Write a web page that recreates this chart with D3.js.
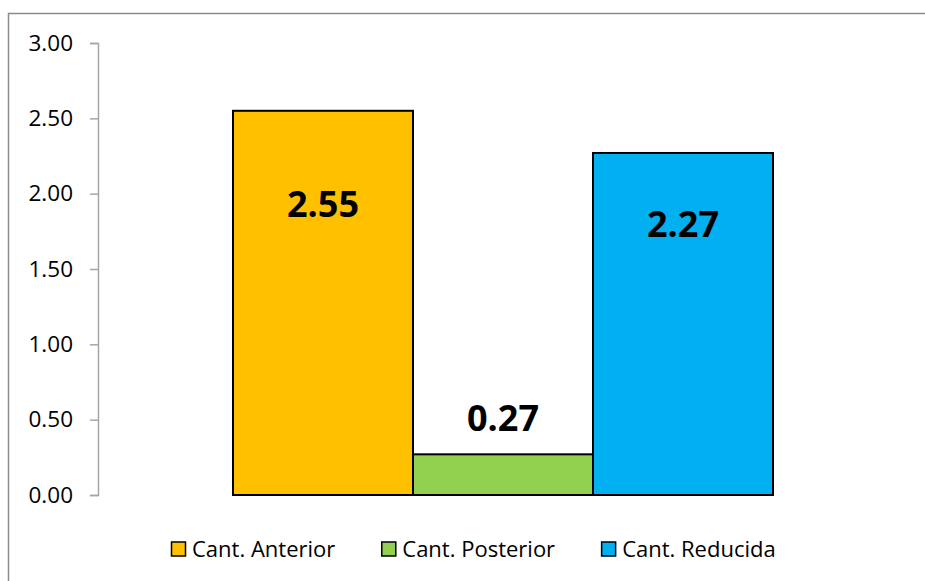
<!DOCTYPE html>
<html>
<head>
<meta charset="utf-8">
<script src="https://cdn.jsdelivr.net/npm/d3@7"></script>
<style>
  body { margin: 0; background: #fff; }
  text { font-family: "Open Sans", "Noto Sans", sans-serif; }
</style>
</head>
<body>
<div id="chart"></div>
<script>
// datos
const categorias = ["Cant. Anterior", "Cant. Posterior", "Cant. Reducida"];
const valores = [2.55, 0.27, 2.27];
const colores = ["#ffc000", "#92d050", "#00b0f0"];
const ticksY = [0, 0.5, 1, 1.5, 2, 2.5, 3];

// desplazamiento de etiquetas (px desde el tope de la barra)
const labelOffset = [106, -23, 84];

const W = 925, H = 581;

let svg = d3.select("#chart")
    .append("svg")
    .attr("width", W)
    .attr("height", H);

// marco del grafico
svg.append("rect")
    .attr("x", 8.5).attr("y", 13.5)
    .attr("width", W).attr("height", H)
    .attr("fill", "none")
    .attr("stroke", "#8c8c8c")
    .attr("stroke-width", 1.5);

let x = d3.scaleBand()
    .domain(categorias)
    .range([233, 773])
    .padding(0);

let y = d3.scaleLinear()
    .domain([0, 3])
    .range([495, 43]);

// eje Y
let ejeY = svg.append("g")
    .attr("transform", "translate(98,0)")
    .call(d3.axisLeft(y).tickValues(ticksY).tickFormat(d3.format(".2f")).tickSize(8).tickPadding(17));
ejeY.select(".domain").attr("stroke", "#a6a6a6").attr("stroke-width", 1.5);
ejeY.selectAll(".tick line").attr("stroke", "#a6a6a6").attr("stroke-width", 1.5);
ejeY.selectAll(".tick text")
    .attr("fill", "#000")
    .style("font-family", "'Open Sans', sans-serif")
    .style("font-size", "22.5px");

// barras
svg.append("g")
    .selectAll("rect")
    .data(valores)
    .enter()
    .append("rect")
    .attr("x", (d, i) => x(categorias[i]))
    .attr("y", d => y(d))
    .attr("width", x.bandwidth())
    .attr("height", d => y(0) - y(d))
    .attr("fill", (d, i) => colores[i])
    .attr("stroke", "#000")
    .attr("stroke-width", 2);

// etiquetas
svg.append("g")
    .selectAll("text")
    .data(valores)
    .enter()
    .append("text")
    .attr("x", (d, i) => x(categorias[i]) + x.bandwidth() / 2)
    .attr("y", (d, i) => y(d) + labelOffset[i])
    .attr("text-anchor", "middle")
    .style("font-size", "36px")
    .style("font-weight", "bold")
    .text(d => d3.format(".2f")(d));

// leyenda
let leyenda = svg.append("g").attr("transform", "translate(171,549)");
let lx = 0;
categorias.forEach((c, i) => {
    let g = leyenda.append("g").attr("transform", "translate(" + lx + ",0)");
    g.append("rect")
        .attr("x", 0.5).attr("y", -7)
        .attr("width", 14).attr("height", 14)
        .attr("fill", colores[i])
        .attr("stroke", "#000")
        .attr("stroke-width", 1.5);
    let t = g.append("text")
        .attr("x", 21)
        .attr("y", 0)
        .attr("dy", "0.36em")
        .style("font-size", "22px")
        .text(c);
    lx += 21 + t.node().getComputedTextLength() + 46;
});
</script>
</body>
</html>
